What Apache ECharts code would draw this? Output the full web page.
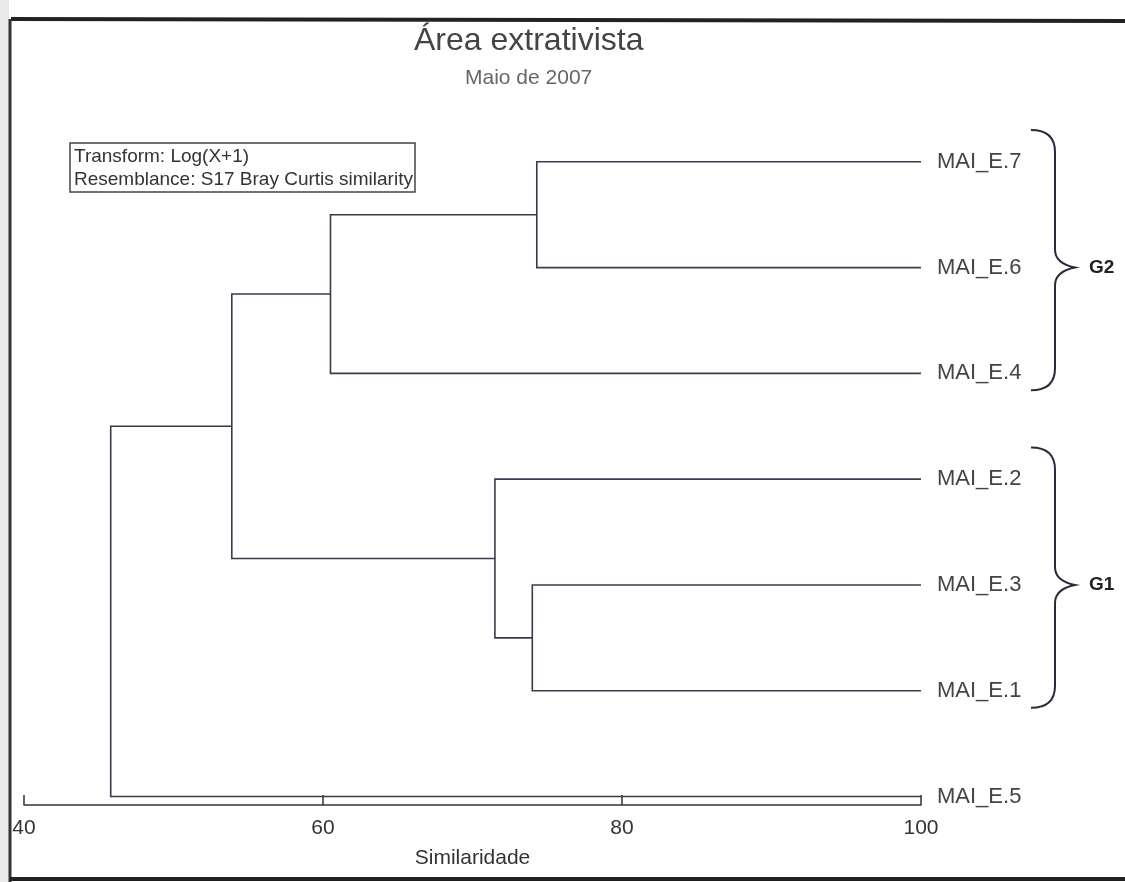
<!DOCTYPE html>
<html><head><meta charset="utf-8">
<script src="https://cdn.jsdelivr.net/npm/echarts@6/dist/echarts.min.js"></script>
<style>html,body{margin:0;padding:0;background:#fff}#c{width:1125px;height:882px}</style>
</head><body><div id="c"></div>
<script>
// ---- data ----
const leafLabels = ['MAI_E.7','MAI_E.6','MAI_E.4','MAI_E.2','MAI_E.3','MAI_E.1','MAI_E.5'];
// merges (linkage): leaves are nodes 0..6, each merge creates node 7, 8, ...
const mergeA   = [0, 7, 4, 3, 8, 11];
const mergeB   = [1, 2, 5, 9, 10, 6];
const mergeSim = [74.3, 60.5, 74.0, 71.5, 53.9, 45.8];
const groupNames = ['G2', 'G1'];
const groupFirst = [0, 3];
const groupLast  = [2, 5];
const xTickMin = 40, xTickMax = 100, xTickStep = 20;
const titleText = 'Área extrativista';
const subtitleText = 'Maio de 2007';
const noteLines = ['Transform: Log(X+1)', 'Resemblance: S17 Bray Curtis similarity'];
const axisName = 'Similaridade';

// ---- build tree geometry in data space ----
const nodeH = leafLabels.map(() => 100);
const nodeY = leafLabels.map((_, i) => i);
const linkData = [];
for (let k = 0; k < mergeSim.length; k++) {
  const a = mergeA[k], b = mergeB[k], h = mergeSim[k];
  linkData.push([nodeH[a], nodeY[a], nodeH[b], nodeY[b], h]);
  nodeH.push(h);
  nodeY.push((nodeY[a] + nodeY[b]) / 2);
}
const labelData = leafLabels.map((l, i) => [100, i]);
const braceData = groupNames.map((g, i) => [100, groupFirst[i], groupLast[i], i]);

const FONT = "'Liberation Sans', Arial, sans-serif";
const LINE = '#3a3a4c';

const chart = echarts.init(document.getElementById('c'));
chart.setOption({
  backgroundColor: '#ffffff',
  animation: false,
  title: [
    { text: titleText, left: 409, top: 20,
      textStyle: { fontFamily: FONT, fontSize: 32, fontWeight: 'normal', color: '#444' } },
    { text: subtitleText, left: 460, top: 63,
      textStyle: { fontFamily: FONT, fontSize: 21, fontWeight: 'normal', color: '#666' } },
    { text: noteLines.join('\n'), left: 70, top: 143, padding: [2, 2, 1, 4],
      borderColor: '#444', borderWidth: 1.5,
      textStyle: { fontFamily: FONT, fontSize: 19, lineHeight: 23, fontWeight: 'normal', color: '#333' } }
  ],
  grid: { left: 24, right: 204, top: 56, bottom: 77 },
  xAxis: {
    type: 'value', min: xTickMin, max: xTickMax, interval: xTickStep,
    axisLine: { onZero: false, lineStyle: { color: '#333', width: 1.5 } },
    axisTick: { inside: true, length: 10, lineStyle: { color: '#333', width: 1.5 } },
    axisLabel: { fontFamily: FONT, fontSize: 21, color: '#333', margin: 13 },
    splitLine: { show: false },
    name: axisName, nameLocation: 'middle', nameGap: 43,
    nameTextStyle: { fontFamily: FONT, fontSize: 21, color: '#333' }
  },
  yAxis: { type: 'value', min: -1, max: 6.08, inverse: true, show: false },
  series: [
    {
      type: 'custom', clip: false, data: linkData,
      renderItem: function (params, api) {
        const p1 = api.coord([api.value(0), api.value(1)]);
        const p2 = api.coord([api.value(4), api.value(1)]);
        const p3 = api.coord([api.value(4), api.value(3)]);
        const p4 = api.coord([api.value(2), api.value(3)]);
        return { type: 'polyline', shape: { points: [p1, p2, p3, p4] },
          style: { stroke: LINE, lineWidth: 1.6, fill: null } };
      }
    },
    {
      type: 'custom', clip: false, data: labelData,
      renderItem: function (params, api) {
        const p = api.coord([api.value(0), api.value(1)]);
        return { type: 'text', x: p[0] + 16, y: p[1],
          style: { text: leafLabels[params.dataIndex], fill: '#444',
            font: '22px ' + FONT, verticalAlign: 'middle' } };
      }
    },
    {
      type: 'custom', clip: false, data: braceData,
      renderItem: function (params, api) {
        const base = api.coord([api.value(0), api.value(1)]);
        const top = api.coord([100, api.value(1) - 0.3])[1];
        const bot = api.coord([100, api.value(2) + 0.16])[1];
        const mid = api.coord([100, (api.value(1) + api.value(2)) / 2])[1];
        const xl = base[0] + 110, xv = base[0] + 134, xt = base[0] + 154;
        const d = 'M' + xl + ' ' + top +
          ' Q' + xv + ' ' + top + ' ' + xv + ' ' + (top + 22) +
          ' L' + xv + ' ' + (mid - 18) +
          ' Q' + xv + ' ' + (mid - 4) + ' ' + xt + ' ' + mid +
          ' Q' + xv + ' ' + (mid + 4) + ' ' + xv + ' ' + (mid + 18) +
          ' L' + xv + ' ' + (bot - 22) +
          ' Q' + xv + ' ' + bot + ' ' + xl + ' ' + bot;
        return { type: 'group', children: [
          { type: 'path', shape: { pathData: d },
            style: { stroke: '#2a2a3a', lineWidth: 2, fill: null } },
          { type: 'text', x: xt + 14, y: mid,
            style: { text: groupNames[params.dataIndex], fill: '#222',
              font: 'bold 19px ' + FONT, verticalAlign: 'middle' } }
        ] };
      }
    }
  ],
  graphic: [
    { type: 'rect', shape: { x: 0, y: 0, width: 9, height: 882 }, style: { fill: '#e9e9ec' }, silent: true },
    { type: 'line', shape: { x1: 11, y1: 19, x2: 1125, y2: 21 }, style: { stroke: '#222', lineWidth: 4 }, silent: true },
    { type: 'line', shape: { x1: 10, y1: 19, x2: 10, y2: 882 }, style: { stroke: '#333', lineWidth: 3 }, silent: true },
    { type: 'line', shape: { x1: 10, y1: 879, x2: 1125, y2: 879 }, style: { stroke: '#222', lineWidth: 4 }, silent: true }
  ]
});
</script></body></html>
